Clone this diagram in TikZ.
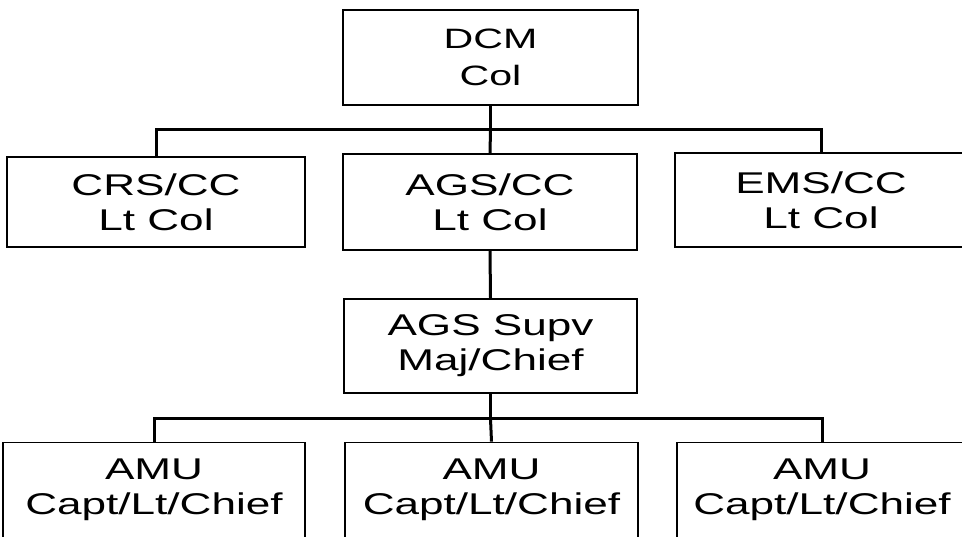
\documentclass[tikz,border=0pt]{standalone}
\usepackage{fontspec}
\setmainfont{Liberation Sans}[FakeStretch=1.47]
\begin{document}
\begin{tikzpicture}[x=1pt,y=-1pt,
  box/.style={draw=black, line width=1.8pt, fill=white, inner sep=0pt,
    align=center, font=\fontsize{30}{35}\selectfont},
  conn/.style={draw=black, line width=3pt}]
\useasboundingbox[fill=white] (0,0) rectangle (962,537);
\node[box, minimum width=295pt, minimum height=95pt, font=\fontsize{28}{37}\selectfont] (dcm) at (490.5,57.5) {DCM\\Col};
\node[box, minimum width=298pt, minimum height=90pt] (crs) at (156,202) {CRS/CC\\Lt Col};
\node[box, minimum width=294pt, minimum height=96pt] (agscc) at (490,202) {AGS/CC\\Lt Col};
\node[box, minimum width=292pt, minimum height=94pt] (ems) at (821,200) {EMS/CC\\Lt Col};
\node[box, minimum width=293pt, minimum height=94pt] (supv) at (490.5,346) {AGS Supv\\Maj/Chief};
\node[box, minimum width=302pt, minimum height=95pt] (amu1) at (154,490) {AMU\\Capt/Lt/Chief};
\node[box, minimum width=293pt, minimum height=95pt] (amu2) at (491.5,490) {AMU\\Capt/Lt/Chief};
\node[box, minimum width=290pt, minimum height=95pt] (amu3) at (822,490) {AMU\\Capt/Lt/Chief};
\path (dcm.south) ++(0,24) coordinate (bar1);
\path (supv.south) ++(0,25) coordinate (bar2);
\draw[conn] (dcm.south) -- (bar1);
\draw[conn] (crs.north) |- (bar1) -| (ems.north);
\draw[conn] (bar1) -- (agscc.north);
\draw[conn] (agscc.south) -- (supv.north);
\draw[conn] (supv.south) -- (bar2);
\draw[conn] (amu1.north) |- (bar2) -| (amu3.north);
\draw[conn] (bar2) -- (amu2.north);
\end{tikzpicture}
\end{document}
